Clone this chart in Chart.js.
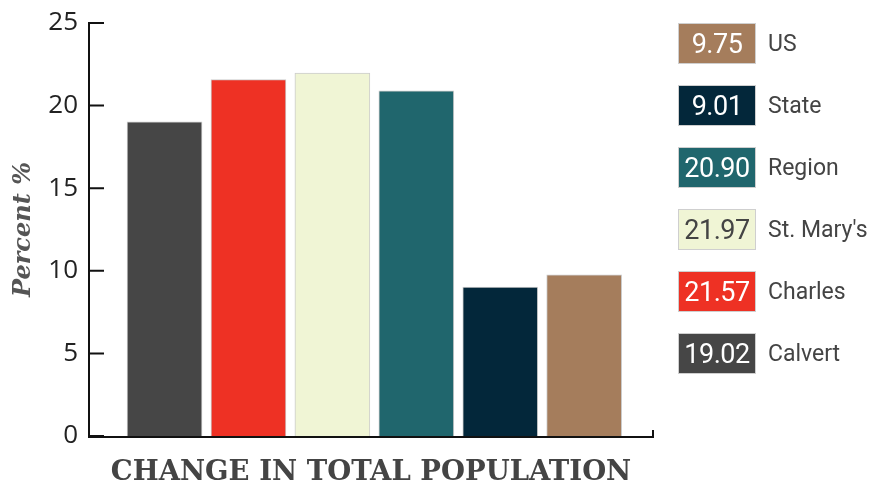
<!DOCTYPE html>
<html>
<head>
<meta charset="utf-8">
<script src="https://cdn.jsdelivr.net/npm/chart.js@4/dist/chart.umd.min.js"></script>
<style>
  html, body { margin:0; padding:0; background:#fff; }
  #wrap { position:relative; width:869px; height:489px; }
  #c { position:absolute; left:0; top:0; }
  #legend { position:absolute; left:678px; top:23px; font-family:"Roboto", "Liberation Sans", sans-serif; }
  .item { display:flex; align-items:center; height:41px; margin-bottom:21px; }
  .box { width:76px; height:39px; border:1px solid #cfcfcf; display:flex; align-items:center; justify-content:center; font-size:27px; letter-spacing:-0.5px; }
  .lab { margin-left:12px; font-size:23px; color:#444; white-space:nowrap; }
</style>
</head>
<body>
<div id="wrap">
  <canvas id="c" width="869" height="489"></canvas>
  <div id="legend"></div>
</div>
<script>
const categories = ["Calvert", "Charles", "St. Mary's", "Region", "State", "US"];
const values = [19.02, 21.57, 21.97, 20.90, 9.01, 9.75];
const yTicks = [0, 5, 10, 15, 20, 25];
const barColors = ["#464646", "#ee3124", "#f0f5d5", "#20666d", "#03273a", "#a57d5c"];
const legendTextColors = ["#fff", "#fff", "#444", "#fff", "#fff", "#fff"];
const xTitle = "CHANGE IN TOTAL POPULATION";
const yTitle = "Percent %";

const leg = document.getElementById('legend');
for (let i = categories.length - 1; i >= 0; i--) {
  const it = document.createElement('div'); it.className = 'item';
  const b = document.createElement('div'); b.className = 'box';
  b.style.background = barColors[i]; b.style.color = legendTextColors[i];
  b.textContent = values[i].toFixed(2);
  const l = document.createElement('div'); l.className = 'lab'; l.textContent = categories[i];
  it.appendChild(b); it.appendChild(l); leg.appendChild(it);
}

const axesPlugin = {
  id: 'axesFrame',
  beforeDatasetsDraw(chart) {
    const ctx = chart.ctx, y = chart.scales.y, a = chart.chartArea;
    ctx.save();
    ctx.strokeStyle = '#111';
    ctx.lineWidth = 2;
    ctx.beginPath();
    const y0 = y.getPixelForValue(0), yTop = y.getPixelForValue(yTicks[yTicks.length-1]);
    ctx.moveTo(a.left, yTop - 1); ctx.lineTo(a.left, y0 + 1);
    ctx.lineTo(a.right, y0 + 1); ctx.lineTo(a.right, y0 - 6);
    yTicks.forEach(v => { const p = y.getPixelForValue(v); ctx.moveTo(a.left, p); ctx.lineTo(a.left + 15, p); });
    ctx.stroke();
    ctx.restore();
  }
};

new Chart(document.getElementById('c'), {
  type: 'bar',
  data: {
    datasets: [{
      data: categories.map((c, i) => ({ x: i, y: values[i] })),
      backgroundColor: barColors,
      borderColor: '#cccccc',
      borderWidth: 1,
      barThickness: 75
    }]
  },
  options: {
    responsive: false,
    animation: false,
    layout: { padding: { top: 23, right: 216, left: 0, bottom: 0 } },
    plugins: { legend: { display: false }, tooltip: { enabled: false } },
    scales: {
      x: {
        type: 'linear', min: -0.9, max: 5.82, offset: false,
        grid: { display: false }, border: { display: false },
        ticks: { display: false },
        title: { display: true, text: xTitle, color: '#444',
          font: { family: '"DejaVu Serif", serif', weight: 'bold', size: 27.5 }, padding: { top: 21, bottom: 0 } },
        afterFit(s) { s.height = 53; }
      },
      y: {
        min: 0, max: 25,
        grid: { display: false }, border: { display: false },
        afterBuildTicks(s) { s.ticks = yTicks.map(v => ({ value: v })); },
        ticks: { padding: 3, color: '#222', font: { family: '"Open Sans", sans-serif', size: 26 } },
        title: { display: true, text: yTitle, color: '#555',
          font: { family: '"DejaVu Serif", serif', weight: 'bold', style: 'italic', size: 24 }, padding: { top: 9, bottom: 0 } },
        afterFit(s) { s.width = 89; }
      }
    }
  },
  plugins: [axesPlugin]
});
</script>
</body>
</html>
